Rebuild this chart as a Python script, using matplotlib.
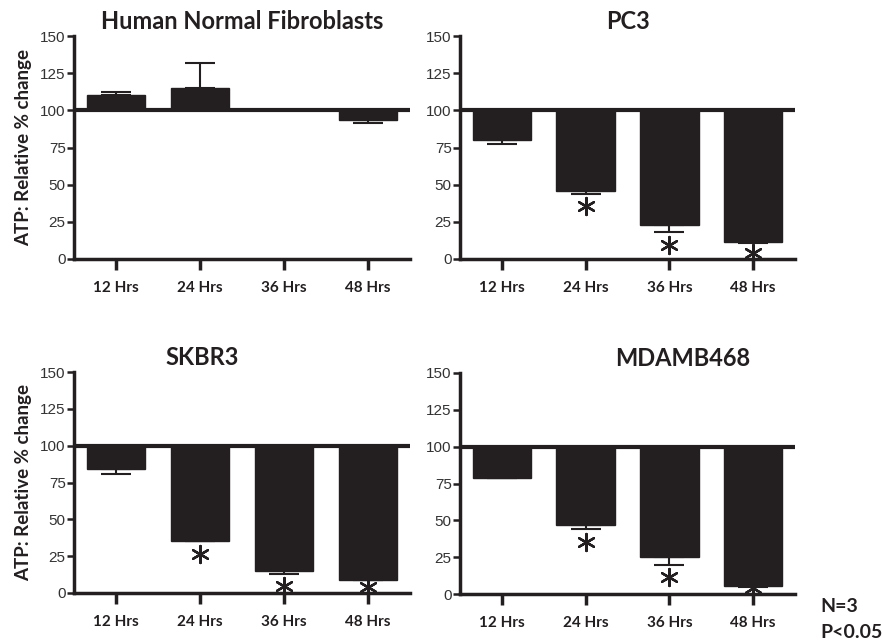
import numpy as np
import matplotlib
matplotlib.use("Agg")
import matplotlib.pyplot as plt

# data (values relative to 100 = control)
horas = ["12 Hrs", "24 Hrs", "36 Hrs", "48 Hrs"]

titulos = ["Human Normal Fibroblasts", "PC3", "SKBR3", "MDAMB468"]

hnf_val = [110, 115, 100, 93.5]
hnf_err = [2.5, 17, 0, 2]
hnf_sig = [False, False, False, False]

pc3_val = [80, 46, 23, 11.5]
pc3_err = [2.5, 2, 5, 1]
pc3_sig = [False, True, True, True]

skbr3_val = [84.5, 35.5, 15, 9]
skbr3_err = [3.5, 0.5, 2, 0.5]
skbr3_sig = [False, True, True, True]

mda_val = [79, 47, 25, 5.5]
mda_err = [0.5, 3, 5, 1]
mda_sig = [False, True, True, True]

preto = "#231f20"
cinza = "#333333"

fig = plt.figure(figsize=(8.82, 6.44), dpi=100)

W, H = 882, 644
def caixa(x0, x1, ytop, ybot):
    return [x0 / W, 1 - ybot / H, (x1 - x0) / W, (ybot - ytop) / H]

posicoes = [caixa(74, 410, 36, 259), caixa(460, 795, 36, 259),
            caixa(74, 410, 372, 593), caixa(460, 795, 373, 594)]
dados = [(hnf_val, hnf_err, hnf_sig), (pc3_val, pc3_err, pc3_sig),
         (skbr3_val, skbr3_err, skbr3_sig), (mda_val, mda_err, mda_sig)]

for i, (pos, (vals, errs, sig)) in enumerate(zip(posicoes, dados)):
    ax = fig.add_axes(pos)
    x = np.arange(len(horas))
    vals = np.array(vals, dtype=float)
    errs = np.array(errs, dtype=float)
    alturas = vals - 100
    ax.bar(x, alturas, bottom=100, width=0.7, color=preto, edgecolor=preto, zorder=2)

    # one-sided error bars (away from 100)
    baixo = np.where(alturas < 0, errs, 0)
    cima = np.where(alturas >= 0, errs, 0)
    for xi, v, b, c in zip(x, vals, baixo, cima):
        if b == 0 and c == 0:
            continue
        ax.errorbar(xi, v, yerr=[[b], [c]], fmt="none", ecolor=preto,
                    elinewidth=1.5, capsize=11, capthick=1.5, zorder=1)

    # asterisks under significant bars
    for xi, v, e, s in zip(x, vals, errs, sig):
        if s:
            ya = max(v - e - 8.5, 4)
            ax.scatter(xi, ya, marker=(6, 2, 0), s=150, color=preto,
                       linewidths=1.7, zorder=4, clip_on=False)

    ax.axhline(100, color=preto, lw=3, zorder=3)
    ax.set_xlim(-0.5, 3.5)
    ax.set_ylim(0, 150)
    ax.set_yticks([0, 25, 50, 75, 100, 125, 150])
    ax.set_xticks(x)
    ax.set_xticklabels(horas, fontfamily="Lato", fontweight="bold", fontsize=11, color=preto)
    for t in ax.get_yticklabels():
        t.set_fontfamily("Liberation Sans")
        t.set_fontsize(11)
        t.set_color(cinza)
    ax.tick_params(axis="y", direction="out", length=5, width=1.8, color=preto, pad=1)
    ax.tick_params(axis="x", direction="out", length=8, width=2.5, color=preto, pad=8)
    for lado in ["top", "right"]:
        ax.spines[lado].set_visible(False)
    for lado in ["left", "bottom"]:
        ax.spines[lado].set_linewidth(2.5)
        ax.spines[lado].set_color(preto)

    if i < 2:
        ax.set_title(titulos[i], fontfamily="Lato", fontweight="bold", fontsize=17,
                     color=preto, pad=5)
    else:
        xt = 0.381 if i == 2 else 0.666
        ax.text(xt, 1.015, titulos[i], transform=ax.transAxes, ha="center", va="bottom",
                fontfamily="Lato", fontweight="bold", fontsize=17, color=preto)

    if i % 2 == 0:
        ax.set_ylabel("ATP: Relative % change", fontfamily="Lato", fontweight="bold",
                      fontsize=13.5, color=preto, labelpad=6)

fig.text(820 / W, 1 - 607 / H, "N=3", fontfamily="Lato", fontweight="bold",
         fontsize=14, color=preto, va="center", ha="left")
fig.text(820 / W, 1 - 633 / H, "P<0.05", fontfamily="Lato", fontweight="bold",
         fontsize=14, color=preto, va="center", ha="left")

fig.savefig("out.png", dpi=100)
